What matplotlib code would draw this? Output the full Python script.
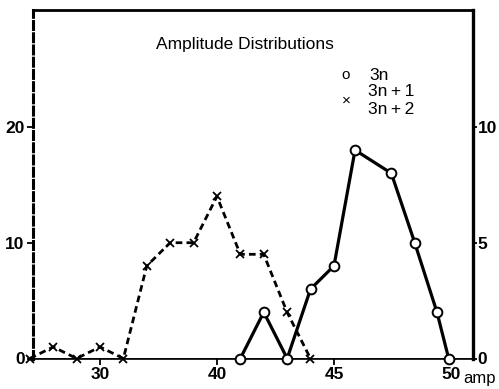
import matplotlib
matplotlib.use("Agg")
import matplotlib.pyplot as plt

plt.rcParams['font.family'] = ['Liberation Sans', 'DejaVu Sans']

# 3n+1 / 3n+2 series (left axis, lower x scale)
x_dash = [24, 26, 28, 30, 32, 34, 36, 38, 40, 42, 44, 46, 48]
y_dash = [0, 1, 0, 1, 0, 8, 10, 10, 14, 9, 9, 4, 0]

# 3n series (right axis, expanded x scale)
x_solid = [41, 42, 43, 44, 45, 45.9, 47.45, 48.45, 49.4, 49.9]
y_solid = [0, 2, 0, 3, 4, 9, 8, 5, 2, 0]

left_ticks = [0, 10, 20]
right_ticks = [0, 5, 10]
x_ticks_1 = [30, 40]
x_ticks_2 = [45, 50]

fig = plt.figure(figsize=(4.99, 3.89), dpi=100)
pos = [33/499, 1-358.5/389, (473-33)/499, (358.5-10)/389]
ax1 = fig.add_axes(pos)
ax2 = fig.add_axes(pos, frameon=False)

# axis ranges
ax1.set_xlim(24.27, 61.9)
ax1.set_ylim(0, 30.1)
ax2.set_xlim(32.14, 50.94)
ax2.set_ylim(0, 15.05)

# baseline
ax1.axhline(0, color='black', lw=1.2, zorder=1)

ax1.plot(x_dash, y_dash, color='black', lw=2.0, linestyle=(0, (2.4, 1.5)),
         marker='x', markersize=6, markeredgewidth=1.3, clip_on=False, zorder=3)
ax2.plot(x_solid, y_solid, color='black', lw=2.3, marker='o', markersize=7,
         markerfacecolor='white', markeredgecolor='black', markeredgewidth=1.4,
         clip_on=False, zorder=3)

# spines
ax1.spines['bottom'].set_linewidth(1.2)
ax1.spines['top'].set_linewidth(2.0)
ax1.spines['left'].set_linewidth(2.2)
ax1.spines['left'].set_linestyle((0, (2.6, 1.4)))
ax1.spines['right'].set_linewidth(2.4)

tfont = dict(fontsize=12.5, fontweight='bold')
ax1.set_yticks(left_ticks)
ax1.set_yticklabels([str(v) for v in left_ticks], **tfont)
ax1.set_xticks(x_ticks_1)
ax1.set_xticklabels([str(v) for v in x_ticks_1], **tfont)
ax1.tick_params(axis='both', direction='out', length=4.5, width=1.3, pad=1.5)

ax2.yaxis.tick_right()
ax2.set_yticks(right_ticks)
ax2.set_yticklabels([str(v) for v in right_ticks], **tfont)
ax2.set_xticks(x_ticks_2)
ax2.set_xticklabels([str(v) for v in x_ticks_2], **tfont)
ax2.tick_params(axis='x', direction='out', length=4.5, width=1.3, pad=1.5)
ax2.tick_params(axis='y', direction='out', length=3, width=1.3, pad=0.5)

fig.text(463/499, 1-378/389, 'amp', fontsize=12, va='center', ha='left')

# title
fig.text(245/499, 1-45/389, 'Amplitude Distributions', fontsize=12.5,
         ha='center', va='center')

# legend
fig.text(346/499, 1-75/389, 'o', fontsize=11, ha='center', va='center')
fig.text(369/499, 1-75/389, '3n', fontsize=12.5, ha='left', va='center')
fig.text(346/499, 1-101/389, '×', fontsize=11, ha='center', va='center')
fig.text(368/499, 1-92/389, '3n\u2009+\u20091', fontsize=12.5, ha='left', va='center')
fig.text(368/499, 1-110/389, '3n\u2009+\u20092', fontsize=12.5, ha='left', va='center')

fig.savefig('out.png', dpi=100)
